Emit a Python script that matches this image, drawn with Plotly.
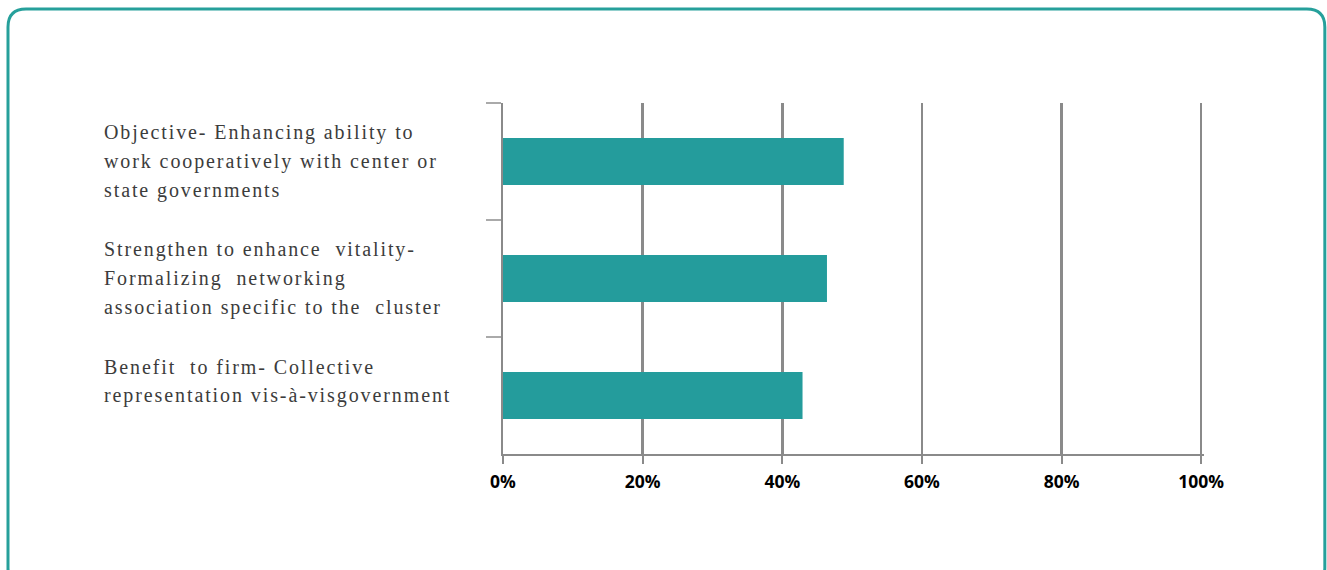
import plotly.graph_objects as go

# ---- data ----
categories = [
    "Objective- Enhancing ability to work cooperatively with center or state governments",
    "Strengthen to enhance vitality- Formalizing networking association specific to the cluster",
    "Benefit to firm- Collective representation vis-à-visgovernment",
]
label_lines = [
    ["Objective- Enhancing ability to", "work cooperatively with center or", "state governments"],
    ["Strengthen to enhance  vitality-", "Formalizing  networking", "association specific to the  cluster"],
    ["Benefit  to firm- Collective", "representation vis-à-visgovernment", ""],
]
values = [0.488, 0.464, 0.429]
tick_vals = [0, 0.2, 0.4, 0.6, 0.8, 1.0]
tick_text = ["0%", "20%", "40%", "60%", "80%", "100%"]
x_max = 1.004

# page offset (body margin removed by post_script)
OX, OY = 0, 0
W, H = 1327 - OX, 570 - OY
# plot area in screen pixels (0% .. 100%)
X0PX, X100PX = 503.3, 1200.8
PT, PB = 102.7, 453.7
PL = X0PX
PR = X0PX + (X100PX - X0PX) * x_max
ML, MT = PL - OX, PT - OY
MR, MB = W - (PR - OX), H - (PB - OY)
PW, PH = PR - PL, PB - PT

TEAL = "#249c9c"
GRID = "#8a8a8a"

def px_x(X):
    return (X - PL) / PW

def px_y(Y):
    return (PB - Y) / PH

fig = go.Figure()
fig.add_trace(go.Bar(
    y=categories, x=values, orientation="h",
    marker=dict(color=TEAL, line=dict(width=0)),
    width=0.4, hoverinfo="skip", showlegend=False,
))

# left-aligned category labels, one annotation per line
LINE_H = 29
for cat, lines in zip(categories, label_lines):
    n = len(lines)
    for i, ln in enumerate(lines):
        if not ln:
            continue
        txt = ln.replace("  ", "&nbsp; ")
        fig.add_annotation(
            x=px_x(103), xref="paper", xanchor="left",
            y=cat, yref="y", yanchor="middle",
            yshift=((n - 1) / 2 - i) * LINE_H,
            text=f'<span style="letter-spacing:1.9px">{txt}</span>',
            showarrow=False, align="left",
            font=dict(family="Liberation Serif, Times New Roman, serif", size=20, color="#3c3c3c"),
        )

# rounded teal border
x0, x1, y0, y1, r = px_x(8.8), px_x(1324.3), px_y(8.8), px_y(585), 18
rx, ry = r / PW, r / PH
path = (f"M {x0},{y1} L {x0},{y0 - ry} Q {x0},{y0} {x0 + rx},{y0} "
        f"L {x1 - rx},{y0} Q {x1},{y0} {x1},{y0 - ry} "
        f"L {x1},{y1 + ry} Q {x1},{y1} {x1 - rx},{y1} L {x0 + rx},{y1} Q {x0},{y1} {x0},{y1 + ry} Z")
fig.add_shape(type="path", path=path, xref="paper", yref="paper",
              line=dict(color="#26a09b", width=3), fillcolor="rgba(0,0,0,0)", layer="above")

fig.update_layout(
    width=W, height=H,
    margin=dict(l=ML, r=MR, t=MT, b=MB, pad=0),
    paper_bgcolor="white", plot_bgcolor="white",
    bargap=0.6,
    xaxis=dict(
        range=[0, x_max], tickvals=tick_vals, ticktext=tick_text,
        showgrid=True, gridcolor=GRID, gridwidth=2.5,
        showline=True, linecolor=GRID, linewidth=2,
        ticks="outside", ticklen=8, tickcolor=GRID, tickwidth=2,
        tickfont=dict(family="Open Sans, Arial, sans-serif", size=17.5, color="black", weight="bold"),
        ticklabelstandoff=3,
        zeroline=False, fixedrange=True,
    ),
    yaxis=dict(
        autorange="reversed", showticklabels=False,
        showgrid=False, zeroline=False,
        showline=True, linecolor=GRID, linewidth=2.5,
        ticks="outside", tickson="boundaries", ticklen=15, tickcolor="#aaaaaa", tickwidth=1.5,
        fixedrange=True,
    ),
)

fig.write_html(
    "out.html",
    config={"displayModeBar": False, "staticPlot": True},
    post_script="document.body.style.margin='0';document.body.style.overflow='hidden';",
)
